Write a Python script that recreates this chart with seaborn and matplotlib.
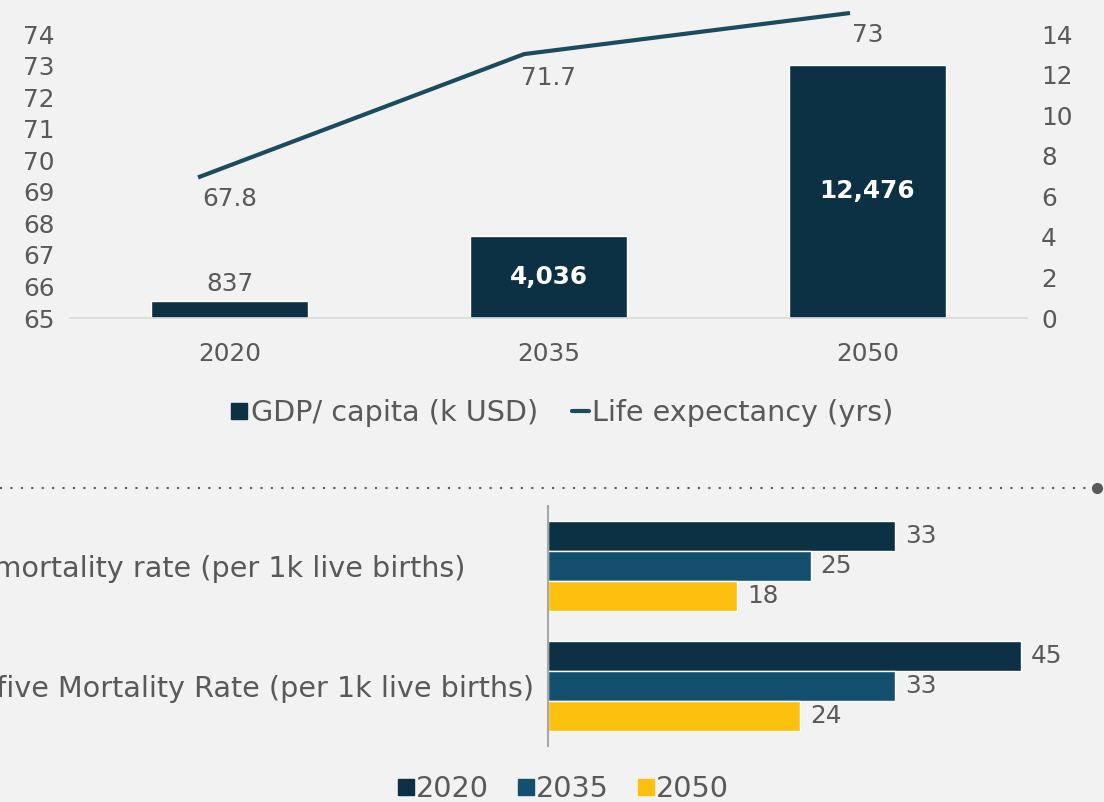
import numpy as np
import pandas as pd
import matplotlib
matplotlib.use("Agg")
import matplotlib.pyplot as plt
import seaborn as sns
from matplotlib.transforms import blended_transform_factory
from matplotlib.lines import Line2D

# ---------------- data ----------------
years = ["2020", "2035", "2050"]
gdp_k = [0.837, 4.036, 12.476]
gdp_labels = ["837", "4,036", "12,476"]
life_exp = [67.8, 71.7, 73.0]
life_labels = ["67.8", "71.7", "73"]
left_ticks = list(range(65, 75))
right_ticks = list(range(0, 15, 2))

metrics = ["Infant mortality rate (per 1k live births)",
           "Under-five Mortality Rate (per 1k live births)"]
mort_2020 = [33, 45]
mort_2035 = [25, 33]
mort_2050 = [18, 24]

# ---------------- style ----------------
sns.set_theme(style="white")
plt.rcParams['font.family'] = ['DejaVu Sans']
BG = "#f2f2f2"
TXT = "#595959"
NAVY = "#0c3044"
MID = "#13506f"
GOLD = "#fec00f"
LINE = "#1a4c60"
FS = 17.8      # numbers
FT = 20.6      # words / legends

W, H = 1104, 802
fig = plt.figure(figsize=(W / 100, H / 100), dpi=100, facecolor=BG)

# ---------------- top panel ----------------
pos_top = [70 / W, 1 - 318 / H, (1027 - 70) / W, (318 - 13) / H]
ax_left = fig.add_axes(pos_top)
ax_bar = fig.add_axes(pos_top)
ax_line = fig.add_axes(pos_top)
for a in (ax_left, ax_bar, ax_line):
    a.set_facecolor("none")
    for s in a.spines.values():
        s.set_visible(False)

# left (life expectancy) tick axis
ax_left.set_ylim(65, 65 + 9 * 305 / 284)
ax_left.set_yticks(left_ticks)
ax_left.set_xticks([])
ax_left.tick_params(axis="y", length=0, pad=11, labelsize=FS, labelcolor=TXT)

# bars (GDP)
df_top = pd.DataFrame({"year": years, "gdp": gdp_k})
sns.barplot(data=df_top, x="year", y="gdp", color=NAVY, width=0.495,
            saturation=1, ax=ax_bar)
ax_bar.set_xlim(-0.5, 2.5)
ax_bar.set_ylim(0, 14 * 305 / 284)
ax_bar.set_yticks(right_ticks)
ax_bar.yaxis.tick_right()
ax_bar.set_xlabel("")
ax_bar.set_ylabel("")
ax_bar.spines["bottom"].set_visible(True)
ax_bar.spines["bottom"].set_color("#d9d9d9")
ax_bar.spines["bottom"].set_linewidth(1.2)
ax_bar.tick_params(axis="y", length=0, pad=10, labelsize=FS, labelcolor=TXT)
ax_bar.tick_params(axis="x", length=0, pad=17, labelsize=FS, labelcolor=TXT)

for i, (p, lab) in enumerate(zip(ax_bar.patches, gdp_labels)):
    cx = p.get_x() + p.get_width() / 2
    h = p.get_height()
    if h < 2:
        ax_bar.annotate(lab, (cx, h), xytext=(0, 12), textcoords="offset points",
                        ha="center", va="center", fontsize=FS, color=TXT)
    else:
        ax_bar.text(cx, h / 2, lab, ha="center", va="center", fontsize=FS,
                    color="white", fontweight="bold")

# line (life expectancy)
df_line = pd.DataFrame({"x": [0, 1, 2], "life": life_exp})
sns.lineplot(data=df_line, x="x", y="life", color=LINE, linewidth=3.0, ax=ax_line)
for ln in ax_line.lines:
    ln.set_clip_on(False)
    ln.set_solid_capstyle("butt")
ax_line.set_xlim(-(198 - 70) / 326, 2 + (1027 - 850) / 326)
ax_line.set_ylim(67.8 - (318 - 178) / 31.5, 73.0)
ax_line.set_xticks([])
ax_line.set_yticks([])
ax_line.set_xlabel("")
ax_line.set_ylabel("")

tr = blended_transform_factory(ax_bar.transData, ax_line.transData)
for i, (v, lab) in enumerate(zip(life_exp, life_labels)):
    off = -17 if i == 1 else -15.5
    ax_line.annotate(lab, (i, v), xycoords=tr, xytext=(0, off),
                     textcoords="offset points", ha="center", va="center",
                     fontsize=FS, color=TXT, annotation_clip=False)

top_handles = [
    Line2D([], [], marker="s", linestyle="none", markersize=11,
           markerfacecolor=NAVY, markeredgecolor=NAVY),
    Line2D([], [], color=LINE, linewidth=3.0),
]
fig.legend(top_handles, ["GDP/ capita (k USD)", "Life expectancy (yrs)"],
           loc="center", bbox_to_anchor=(562 / W, 1 - 413 / H), ncol=2,
           frameon=False, fontsize=FT, labelcolor=TXT, handlelength=0.6,
           handletextpad=0.1, columnspacing=1.2)

# ---------------- separator ----------------
yy = 1 - 488 / H
fig.add_artist(Line2D([0, 1090 / W], [yy, yy], transform=fig.transFigure,
                      color=TXT, linewidth=1.5, linestyle=(0, (1, 4))))
fig.add_artist(Line2D([1097 / W], [yy], transform=fig.transFigure,
                      marker="o", markersize=7, color=TXT, linestyle="none"))

# ---------------- bottom panel ----------------
ax_h = fig.add_axes([548 / W, 1 - 746 / H, 526 / W, 240 / H])
ax_h.set_facecolor("none")
df_bot = pd.DataFrame({
    "metric": metrics * 3,
    "year": ["2020"] * 2 + ["2035"] * 2 + ["2050"] * 2,
    "value": mort_2020 + mort_2035 + mort_2050,
})
sns.barplot(data=df_bot, y="metric", x="value", hue="year", orient="h",
            hue_order=years, palette=[NAVY, MID, GOLD], width=0.75,
            saturation=1, ax=ax_h, legend=False)
ax_h.set_xlim(0, 50)
ax_h.set_ylim(1.5, -0.5)
ax_h.set_xticks([])
ax_h.set_xlabel("")
ax_h.set_ylabel("")
for s in ax_h.spines.values():
    s.set_visible(False)
ax_h.spines["left"].set_visible(True)
ax_h.spines["left"].set_color("#a6a6a6")
ax_h.spines["left"].set_linewidth(1.5)
# category labels: left-aligned at a common start (as in the reference, the
# start lies beyond the left edge of the image)
ax_h.tick_params(axis="y", length=0, pad=466, labelsize=FT, labelcolor=TXT)
for lab in ax_h.get_yticklabels():
    lab.set_horizontalalignment("left")
for c in ax_h.containers:
    ax_h.bar_label(c, fmt="%d", padding=7, fontsize=FS, color=TXT)

bot_handles = [Line2D([], [], marker="s", linestyle="none", markersize=11,
                      markerfacecolor=c, markeredgecolor=c)
               for c in (NAVY, MID, GOLD)]
fig.legend(bot_handles, years, loc="center", bbox_to_anchor=(563 / W, 1 - 789 / H),
           ncol=3, frameon=False, fontsize=FT, labelcolor=TXT, handlelength=0.6,
           handletextpad=0.05, columnspacing=1.0)

fig.savefig("out.png", dpi=100, facecolor=BG)
